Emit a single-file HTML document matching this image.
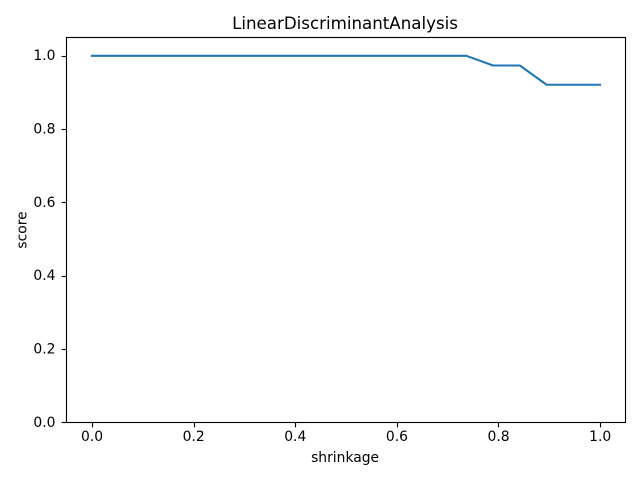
<!DOCTYPE html>
<html lang="en">
<head>
<meta charset="utf-8">
<title>LinearDiscriminantAnalysis</title>
<style>
html,body{margin:0;padding:0;background:#fff;width:640px;height:480px;overflow:hidden}
svg{display:block}
text{font-family:"DejaVu Sans",sans-serif;fill:#000}
</style>
</head>
<body>
<svg id="chart" xmlns="http://www.w3.org/2000/svg" width="640" height="480" viewBox="0 0 640 480">
  <rect x="0" y="0" width="640" height="480" fill="#fff"/>
  <g id="ticks"></g>
  <path id="series" fill="none" stroke="#1f77b4" stroke-width="2.08" stroke-linejoin="round" stroke-linecap="square"/>
  <rect x="66.5" y="37.5" width="559" height="385" fill="none" stroke="#000" stroke-width="1.11"/>
  <text x="345" y="29" font-size="16.67" text-anchor="middle">LinearDiscriminantAnalysis</text>
  <text x="345.1" y="462" font-size="13.89" text-anchor="middle">shrinkage</text>
  <text transform="translate(26.5,230) rotate(-90)" font-size="13.89" text-anchor="middle">score</text>
</svg>
<script>
const shrinkage = [0, 0.0526, 0.1053, 0.1579, 0.2105, 0.2632, 0.3158, 0.3684, 0.4211, 0.4737, 0.5263, 0.5789, 0.6316, 0.6842, 0.7368, 0.7895, 0.8421, 0.8947, 0.9474, 1];
const score = [1, 1, 1, 1, 1, 1, 1, 1, 1, 1, 1, 1, 1, 1, 1, 0.9737, 0.9737, 0.9211, 0.9211, 0.9211];
const xTickLabels = ["0.0", "0.2", "0.4", "0.6", "0.8", "1.0"];
const yTickLabels = ["0.0", "0.2", "0.4", "0.6", "0.8", "1.0"];

const NS = 'http://www.w3.org/2000/svg';
const plotLeft = 66.5, plotRight = 625.5, plotTop = 37.5, plotBottom = 422.5;
const xMin = 0, xMax = 1;
const xPad = (xMax - xMin) * 0.05;
const yMin = 0, yMax = 1.05;
function xScale(v) {
  return plotLeft + (v - (xMin - xPad)) / ((xMax + xPad) - (xMin - xPad)) * (plotRight - plotLeft);
}
function yScale(v) {
  return plotBottom - (v - yMin) / (yMax - yMin) * (plotBottom - plotTop);
}
function snap(p) {
  return Math.round(p - 0.01) + 0.5;
}

document.getElementById('series').setAttribute('d',
  shrinkage.map((v, i) => (i ? 'L' : 'M') + xScale(v).toFixed(2) + ' ' + yScale(score[i]).toFixed(2)).join(' '));

const tickGroup = document.getElementById('ticks');
xTickLabels.forEach(function (label) {
  const x = snap(xScale(parseFloat(label)));
  const tick = document.createElementNS(NS, 'line');
  
  
  tick.setAttribute('x1', x);
  tick.setAttribute('x2', x);
  tick.setAttribute('y1', plotBottom);
  tick.setAttribute('y2', plotBottom + 4.86);
  tick.setAttribute('stroke', '#000');
  tick.setAttribute('stroke-width', '1.11');
  tickGroup.appendChild(tick);
  const text = document.createElementNS(NS, 'text');
  
  
  text.setAttribute('x', xScale(parseFloat(label)) + 0.1);
  text.setAttribute('y', plotBottom + 18.5);
  text.setAttribute('font-size', '13.89');
  text.setAttribute('text-anchor', 'middle');
  text.textContent = label;
  tickGroup.appendChild(text);
});
yTickLabels.forEach(function (label) {
  const y = snap(yScale(parseFloat(label)));
  const tick = document.createElementNS(NS, 'line');
  
  
  tick.setAttribute('x1', plotLeft - 4.86);
  tick.setAttribute('x2', plotLeft);
  tick.setAttribute('y1', y);
  tick.setAttribute('y2', y);
  tick.setAttribute('stroke', '#000');
  tick.setAttribute('stroke-width', '1.11');
  tickGroup.appendChild(tick);
  const text = document.createElementNS(NS, 'text');
  
  
  text.setAttribute('x', plotLeft - 11);
  text.setAttribute('y', yScale(parseFloat(label)) + 4.4);
  text.setAttribute('font-size', '13.89');
  text.setAttribute('text-anchor', 'end');
  text.textContent = label;
  tickGroup.appendChild(text);
});
</script>
</body>
</html>
